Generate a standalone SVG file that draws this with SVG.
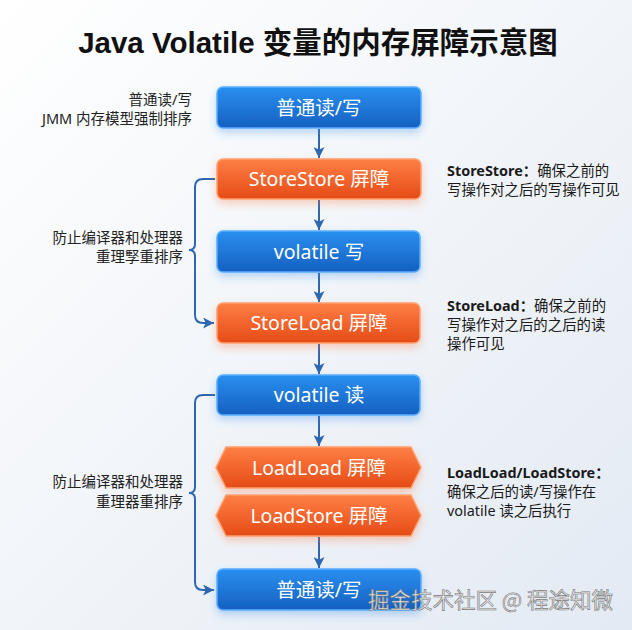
<svg xmlns="http://www.w3.org/2000/svg" width="632" height="630" viewBox="0 0 632 630">
<defs>
<linearGradient id="bg" x1="0" y1="0" x2="1" y2="1">
<stop offset="0" stop-color="#ffffff"/>
<stop offset="1" stop-color="#e3eaf3"/>
</linearGradient>
<linearGradient id="gBlue" x1="0" y1="0" x2="0" y2="1">
<stop offset="0" stop-color="#2a8ff0"/>
<stop offset="1" stop-color="#1560c0"/>
</linearGradient>
<linearGradient id="gOrange" x1="0" y1="0" x2="0" y2="1">
<stop offset="0" stop-color="#ff7f45"/>
<stop offset="1" stop-color="#e54b16"/>
</linearGradient>
<filter id="shBlue" x="-20%" y="-40%" width="140%" height="190%">
<feDropShadow dx="0" dy="4" stdDeviation="4" flood-color="#3a8ef0" flood-opacity="0.35"/>
</filter>
<filter id="shOrange" x="-20%" y="-40%" width="140%" height="190%">
<feDropShadow dx="0" dy="4" stdDeviation="4" flood-color="#ff7a40" flood-opacity="0.35"/>
</filter>
<marker id="arr" viewBox="0 0 10 10" refX="10" refY="5" markerWidth="11" markerHeight="11" markerUnits="userSpaceOnUse" orient="auto">
<path d="M0,0 L10,5 L0,10 L2.5,5 z" fill="#2e67b1"/>
</marker>
</defs>
<style>
.blue{fill:url(#gBlue);stroke:#5aaeff;stroke-width:1.5;filter:url(#shBlue)}
.orange{fill:url(#gOrange);stroke:#ffa070;stroke-width:1.5;filter:url(#shOrange)}
.nt{font-family:"Noto Sans","Noto Sans CJK SC",sans-serif;font-size:19.5px;fill:#ffffff;text-anchor:middle}
.lt{font-family:"Noto Sans","Noto Sans CJK SC",sans-serif;font-size:14.5px;fill:#222222;text-anchor:end}
.rt{font-family:"Noto Sans","Noto Sans CJK SC",sans-serif;font-size:14.4px;fill:#1a1a1a}
.b{font-weight:bold}
.con{fill:none;stroke:#2e67b1;stroke-width:2}
</style>
<rect x="0" y="0" width="632" height="630" fill="url(#bg)"/>
<text x="318" y="53" text-anchor="middle" font-family="'Liberation Sans','Noto Sans CJK SC',sans-serif" font-weight="bold" font-size="29.5" fill="#111">Java Volatile 变量的内存屏障示意图</text>

<g id="connectors">
<line class="con" x1="319" y1="129" x2="319" y2="158" marker-end="url(#arr)"/>
<line class="con" x1="319" y1="200" x2="319" y2="230" marker-end="url(#arr)"/>
<line class="con" x1="319" y1="273" x2="319" y2="302" marker-end="url(#arr)"/>
<line class="con" x1="319" y1="344" x2="319" y2="374" marker-end="url(#arr)"/>
<line class="con" x1="319" y1="416" x2="319" y2="446" marker-end="url(#arr)"/>
<line class="con" x1="319" y1="537" x2="319" y2="568" marker-end="url(#arr)"/>
<path class="con" d="M215,179 H203 Q195,179 195,187 V244 Q195,250 189,250 Q195,250 195,256 V315 Q195,323 203,323 H214" marker-end="url(#arr)"/>
<path class="con" d="M215,395 H203 Q195,395 195,403 V487 Q195,493 189,493 Q195,493 195,499 V582 Q195,590 203,590 H214" marker-end="url(#arr)"/>
</g>

<g id="n1"><rect class="blue" x="217" y="87" width="204" height="41" rx="6"/><text class="nt" x="319" y="114.5">普通读/写</text></g>
<g id="n2"><rect class="orange" x="217" y="159" width="204" height="40" rx="6"/><text class="nt" x="319" y="186">StoreStore 屏障</text></g>
<g id="n3"><rect class="blue" x="217" y="231" width="203" height="41" rx="6"/><text class="nt" x="319" y="258.5">volatile 写</text></g>
<g id="n4"><rect class="orange" x="217" y="303" width="203" height="40" rx="6"/><text class="nt" x="319" y="330">StoreLoad 屏障</text></g>
<g id="n5"><rect class="blue" x="217" y="375" width="203" height="40" rx="6"/><text class="nt" x="319" y="402">volatile 读</text></g>
<g id="n6"><path class="orange" d="M216,467.5 L226,447 H411 L421,467.5 L411,488 H226 Z" stroke-linejoin="round"/><text class="nt" x="319" y="474.5">LoadLoad 屏障</text></g>
<g id="n7"><path class="orange" d="M216,515.5 L226,495 H411 L421,515.5 L411,536 H226 Z" stroke-linejoin="round"/><text class="nt" x="319" y="522.5">LoadStore 屏障</text></g>
<g id="n8"><rect class="blue" x="217" y="569" width="204" height="41" rx="6"/><text class="nt" x="319" y="596.5">普通读/写</text></g>

<g id="labels-left">
<text class="lt" x="192" y="105">普通读/写</text>
<text class="lt" x="192" y="124">JMM 内存模型强制排序</text>
<text class="lt" x="183" y="243">防止编译器和处理器</text>
<text class="lt" x="183" y="262">重理孯重排序</text>
<text class="lt" x="183" y="487">防止编译器和处理器</text>
<text class="lt" x="183" y="506.5">重理器重排序</text>
</g>

<g id="labels-right">
<text class="rt" x="447" y="176"><tspan class="b">StoreStore：</tspan>确保之前的</text>
<text class="rt" x="447" y="195">写操作对之后的写操作可见</text>
<text class="rt" x="447" y="311"><tspan class="b">StoreLoad：</tspan>确保之前的</text>
<text class="rt" x="447" y="330">写操作对之后的之后的读</text>
<text class="rt" x="447" y="349">操作可见</text>
<text class="rt" x="447" y="478"><tspan class="b">LoadLoad/LoadStore：</tspan></text>
<text class="rt" x="447" y="497">确保之后的读/写操作在</text>
<text class="rt" x="447" y="516">volatile 读之后执行</text>
</g>

<text x="368" y="608" font-family="'Noto Sans CJK SC','Noto Sans',sans-serif" font-size="21.5" fill="#e6e6e6" stroke="#7a7a7a" stroke-width="0.6">掘金技术社区 @ 程途知微</text>
</svg>
